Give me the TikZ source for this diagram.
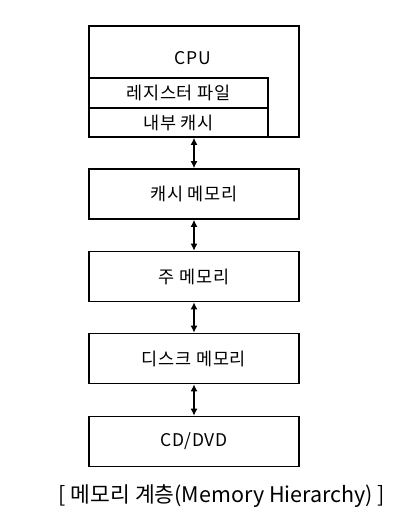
\documentclass[tikz,border=0pt]{standalone}
\usepackage{fontspec}
\setmainfont{Noto Sans CJK KR}
\newfontfamily\boxfont[LetterSpace=4]{Noto Sans CJK KR}
\usetikzlibrary{arrows.meta}

\begin{document}
\begin{tikzpicture}[x=1pt, y=-1pt,
        box/.style={draw, line width=1.6pt, minimum width=210pt, minimum height=50pt,
                    inner sep=0pt, font=\boxfont\fontsize{17.5}{20}\selectfont},
        inbox/.style={draw, line width=1.6pt, minimum width=179pt, minimum height=29.5pt,
                    inner sep=0pt, font=\boxfont\fontsize{17.5}{20}\selectfont},
        link/.style={line width=1.5pt, {Latex[length=7pt,width=7pt]}-{Latex[length=7pt,width=7pt]}}]
            \useasboundingbox (0,0) rectangle (404,530);
            \node[box, minimum height=111pt] (cpu) at (194,81.5) {};
            \node[font=\boxfont\fontsize{17.5}{20}\selectfont] (cpulabel) at (193,58) {CPU};
            \node[inbox] (reg) at (178.5,93) {레지스터 파일};
            \node[inbox] (incache) at (178.5,122.5) {내부 캐시};
            \node[box] (cache) at (194,194) {캐시 메모리};
            \node[box] (main) at (194,276.5) {주 메모리};
            \node[box] (disk) at (194,358.5) {디스크 메모리};
            \node[box] (cd) at (194,441.5) {CD/DVD};
            \draw[link] (cpu.south) -- (cache.north);
            \draw[link] (cache.south) -- (main.north);
            \draw[link] (main.south) -- (disk.north);
            \draw[link] (disk.south) -- (cd.north);
            \node[font=\fontsize{21.5}{25}\selectfont] (caption) at (222,496)
                {[ 메모리 계층(Memory Hierarchy) ]};
        \end{tikzpicture}
\end{document}
